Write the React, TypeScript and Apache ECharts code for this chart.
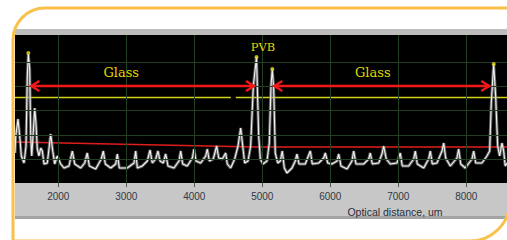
import React, { useEffect, useRef } from "react";
import * as echarts from "echarts";

// x range of the visible plot (optical distance, um)
const X_MIN = 1363;
const X_MAX = 8599;
const xTicks = [2000, 3000, 4000, 5000, 6000, 7000, 8000];
const yGrid = [23, 47, 72, 96, 120];

// reflected signal (white trace)
const sigX = [
  1363, 1374, 1407, 1432, 1456, 1496, 1525, 1544, 1559, 1579,
  1594, 1609, 1628, 1653, 1672, 1691, 1716, 1741, 1765, 1790,
  1838, 1888, 1918, 1947, 1985, 2035, 2084, 2157, 2206, 2241,
  2329, 2388, 2426, 2456, 2550, 2632, 2662, 2691, 2771, 2844,
  2868, 2897, 3015, 3113, 3138, 3162, 3235, 3309, 3349, 3382,
  3432, 3466, 3496, 3544, 3579, 3613, 3701, 3775, 3800, 3829,
  3897, 3971, 3996, 4025, 4094, 4168, 4191, 4221, 4279, 4329,
  4359, 4412, 4462, 4485, 4535, 4594, 4643, 4682, 4712, 4741,
  4790, 4829, 4868, 4915, 4947, 4971, 5010, 5069, 5103, 5128,
  5147, 5168, 5191, 5227, 5265, 5294, 5324, 5363, 5437, 5485,
  5510, 5540, 5632, 5706, 5735, 5829, 5903, 5927, 5962, 6025,
  6099, 6124, 6157, 6246, 6319, 6344, 6378, 6491, 6565, 6588,
  6618, 6712, 6760, 6785, 6824, 6882, 6981, 7029, 7059, 7153,
  7227, 7250, 7279, 7374, 7447, 7471, 7500, 7569, 7643, 7668,
  7697, 7765, 7863, 7888, 7918, 7985, 8084, 8109, 8138, 8231,
  8304, 8344, 8368, 8403, 8432, 8462, 8491, 8525, 8550, 8573,
  8599,
];
const sigY = [
  29, 46, 63, 46, 26, 19, 36, 106, 128, 113,
  46, 26, 46, 74, 58, 33, 26, 34, 31, 18,
  19, 48, 31, 18, 26, 18, 14, 16, 31, 18,
  14, 19, 29, 16, 13, 23, 31, 18, 14, 18,
  28, 14, 14, 19, 31, 14, 16, 21, 32, 19,
  23, 31, 21, 19, 28, 16, 14, 21, 31, 18,
  16, 24, 33, 21, 19, 26, 33, 21, 23, 36,
  24, 23, 29, 18, 14, 23, 36, 54, 36, 19,
  21, 36, 96, 125, 46, 23, 18, 21, 39, 96,
  113, 93, 29, 19, 21, 31, 14, 9, 14, 21,
  28, 18, 18, 31, 18, 19, 24, 29, 19, 18,
  21, 28, 16, 13, 21, 31, 18, 18, 23, 29,
  18, 19, 28, 36, 23, 18, 19, 29, 16, 16,
  23, 31, 18, 14, 23, 31, 18, 19, 31, 39,
  24, 16, 24, 33, 18, 14, 23, 31, 19, 19,
  26, 31, 79, 118, 86, 36, 26, 39, 31, 16,
  19,
];

// detected peaks (yellow markers)
const peakX = [1559, 4915, 5147, 8403];
const peakY = [129, 125, 113, 118];

// red threshold line
const redX = [1363, 4900, 8599];
const redY = [40, 35, 35];

// yellow level line (with a small gap)
const yellowX = [1363, 4538, 4572, 4610, 8599];
const yellowY: (number | null)[] = [84.5, 84.5, null, 84.5, 84.5];

// thickness arrows
const arrowFrom = [1603, 5177];
const arrowTo = [4878, 8338];
const arrowLevel = [96, 96];

// annotations
const noteText = ["Glass", "PVB", "Glass"];
const noteX = [2925, 5010, 6625];
const noteY = [110, 135, 110];

export default function App() {
  const ref = useRef<HTMLDivElement>(null);

  useEffect(() => {
    if (!ref.current) return;
    const chart = echarts.init(ref.current, null, { renderer: "svg" });

    const signal = sigX.map((x, i) => [x, sigY[i]]);
    const peaks = peakX.map((x, i) => [x, peakY[i]]);
    const red = redX.map((x, i) => [x, redY[i]]);
    const yellow = yellowX.map((x, i) => [x, yellowY[i]]);
    const arrows = arrowFrom.map((x, i) => [x, arrowTo[i], arrowLevel[i]]);
    const notes = noteX.map((x, i) => [x, noteY[i], i]);

    const arrowColor = "#f01818";

    chart.setOption({
      animation: false,
      grid: { left: 15, right: 0, top: 35, bottom: 57, containLabel: false },
      xAxis: {
        type: "value",
        min: X_MIN,
        max: X_MAX,
        axisLine: { show: false },
        axisTick: {
          show: true,
          customValues: xTicks,
          length: 5,
          lineStyle: { color: "#555", width: 1 },
        },
        axisLabel: {
          customValues: xTicks,
          formatter: (v: number) => String(v),
          color: "#323846",
          fontSize: 10,
          fontFamily: "Liberation Sans, Arial, sans-serif",
          margin: 8,
        },
        splitLine: { show: false },
      },
      yAxis: {
        type: "value",
        min: -1,
        max: 147,
        show: false,
        splitLine: { show: false },
      },
      graphic: [
        { type: "rect", z: -5, shape: { x: 15, y: 29, width: 492, height: 190 }, style: { fill: "#c7c7c7" } },
        { type: "rect", z: -4, shape: { x: 15, y: 29, width: 492, height: 6 }, style: { fill: "#bdbdbd" } },
        { type: "rect", z: -4, shape: { x: 15, y: 216, width: 492, height: 3 }, style: { fill: "#a4a4a4" } },
        { type: "rect", z: -3, shape: { x: 15, y: 35, width: 492, height: 148 }, style: { fill: "#000000" } },
        {
          type: "text",
          z: 10,
          x: 395,
          y: 212,
          style: {
            text: "Optical distance, um",
            fill: "#2a2e3a",
            fontSize: 10.5,
            fontFamily: "Liberation Sans, Arial, sans-serif",
            align: "center",
            verticalAlign: "middle",
          },
        },
        {
          type: "rect",
          z: 100,
          shape: { x: 13, y: 8, width: 497, height: 233, r: [32, 0, 40, 0] },
          style: { fill: "none", stroke: "#f9c04a", lineWidth: 3 },
        },
      ],
      series: [
        {
          type: "line",
          data: [],
          z: 1,
          silent: true,
          markLine: {
            silent: true,
            symbol: ["none", "none"],
            label: { show: false },
            lineStyle: { color: "#223f24", width: 1, type: "solid" },
            data: [
              ...xTicks.map((v) => ({ xAxis: v })),
              ...yGrid.map((v) => ({ yAxis: v })),
            ],
          },
        },
        {
          type: "line",
          data: red,
          z: 2,
          symbol: "none",
          lineStyle: { color: "#e21c1c", width: 1.5 },
        },
        {
          type: "line",
          data: yellow,
          z: 2,
          symbol: "none",
          connectNulls: false,
          lineStyle: { color: "#d2d214", width: 1.3 },
        },
        {
          type: "line",
          data: signal,
          z: 3,
          symbol: "none",
          lineStyle: { color: "#8c8c8c", width: 3, opacity: 0.7 },
        },
        {
          type: "line",
          data: signal,
          z: 4,
          symbol: "none",
          lineStyle: { color: "#f2f2f2", width: 1.1 },
        },
        {
          type: "scatter",
          data: peaks,
          z: 5,
          symbolSize: 4,
          itemStyle: { color: "#e6e020" },
        },
        {
          type: "custom",
          z: 6,
          clip: false,
          data: arrows,
          encode: { x: [0, 1], y: 2 },
          renderItem: (params: any, api: any) => {
            const y = api.value(2);
            const p1 = api.coord([api.value(0), y]);
            const p2 = api.coord([api.value(1), y]);
            const head = 8;
            const half = 5;
            const st = { stroke: arrowColor, lineWidth: 2.5, fill: "none" };
            return {
              type: "group",
              children: [
                { type: "line", shape: { x1: p1[0], y1: p1[1], x2: p2[0], y2: p2[1] }, style: st },
                {
                  type: "polyline",
                  shape: { points: [[p1[0] + head, p1[1] - half], [p1[0], p1[1]], [p1[0] + head, p1[1] + half]] },
                  style: st,
                },
                {
                  type: "polyline",
                  shape: { points: [[p2[0] - head, p2[1] - half], [p2[0], p2[1]], [p2[0] - head, p2[1] + half]] },
                  style: st,
                },
              ],
            };
          },
        },
        {
          type: "custom",
          z: 6,
          clip: false,
          data: notes,
          encode: { x: 0, y: 1 },
          renderItem: (params: any, api: any) => {
            const p = api.coord([api.value(0), api.value(1)]);
            const idx = api.value(2);
            return {
              type: "text",
              x: p[0],
              y: p[1],
              style: {
                text: noteText[idx],
                fill: "#e0da00",
                fontSize: noteText[idx] === "PVB" ? 11.5 : 13,
                fontFamily: "DejaVu Serif, serif",
                align: "center",
                verticalAlign: "middle",
              },
            };
          },
        },
      ],
    });

    return () => chart.dispose();
  }, []);

  return (
    <div
      ref={ref}
      style={{ position: "fixed", left: 0, top: 0, width: 507, height: 240, background: "#fff" }}
    />
  );
}
